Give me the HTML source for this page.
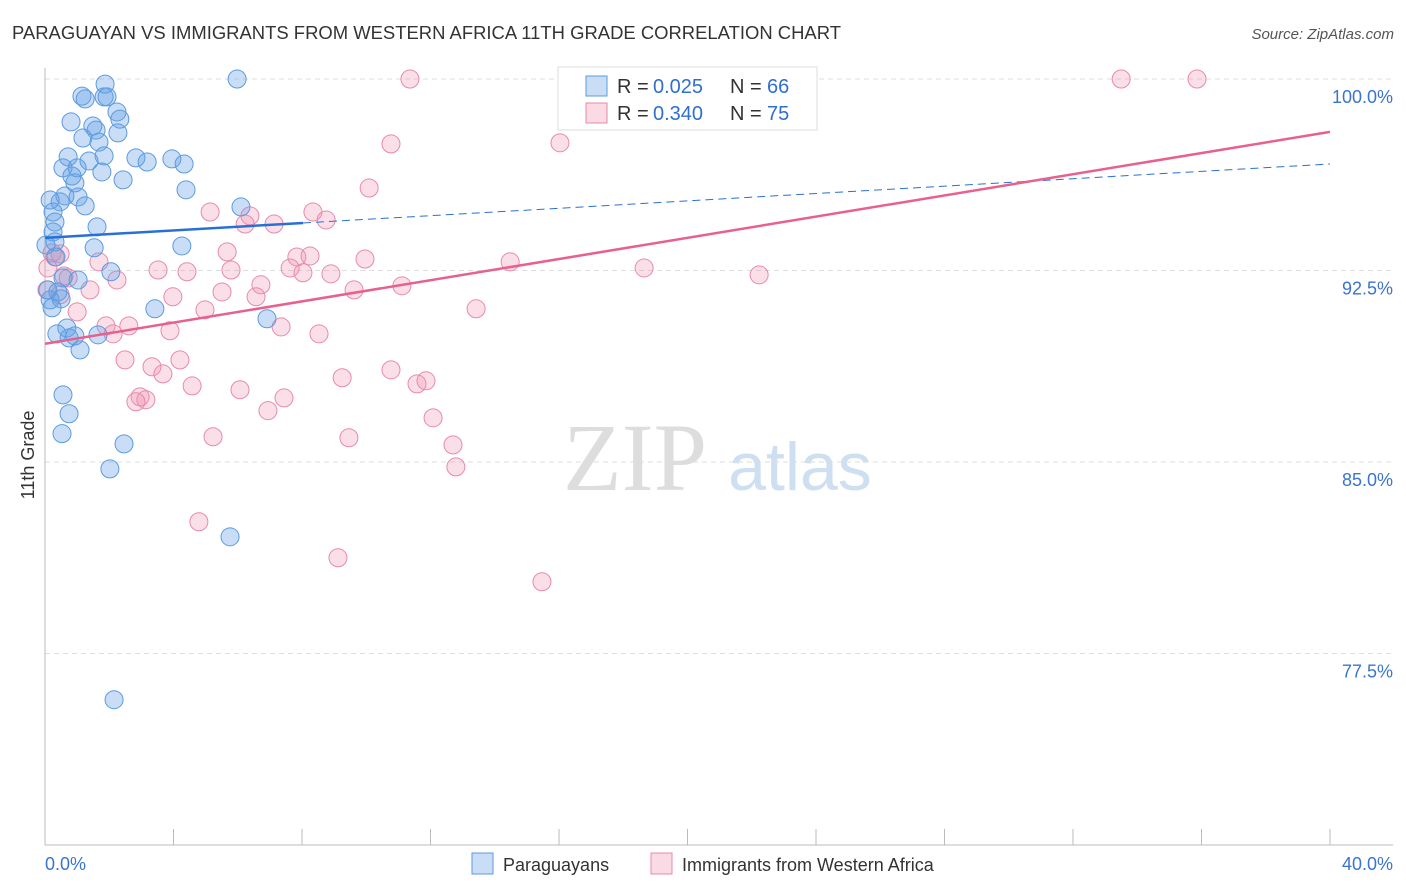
<!DOCTYPE html>
<html><head><meta charset="utf-8"><style>
body{margin:0;background:#fff;font-family:"Liberation Sans",sans-serif}
svg{display:block}
</style></head><body>
<svg id="chart" width="1406" height="892" xmlns="http://www.w3.org/2000/svg">
<text x="12" y="39" font-size="18" fill="#333" textLength="829" lengthAdjust="spacingAndGlyphs">PARAGUAYAN VS IMMIGRANTS FROM WESTERN AFRICA 11TH GRADE CORRELATION CHART</text>
<text x="1394" y="39" font-size="15" fill="#555" font-style="italic" text-anchor="end">Source: ZipAtlas.com</text>
<g>
<text x="635" y="490" font-size="96" font-family="Liberation Serif,serif" fill="#ddd" text-anchor="middle">ZIP</text>
<text x="800" y="490" font-size="68" fill="#cfdff2" text-anchor="middle">atlas</text>
</g>
<g id="grid"></g><g id="axes"></g><g id="pts"></g><g id="lines"></g>
<text transform="translate(34,455) rotate(-90)" font-size="18" fill="#333" text-anchor="middle">11th Grade</text>
<g>
<rect x="558" y="67" width="259" height="63" fill="#fff" stroke="#ddd"/>
<rect x="586" y="76" width="21" height="20" fill="rgba(100,160,230,0.35)" stroke="#5b9be0"/>
<text y="93" font-size="20" fill="#333"><tspan x="617">R =</tspan><tspan x="653" fill="#2f6fd0">0.025</tspan><tspan x="730">N =</tspan><tspan x="767" fill="#2f6fd0">66</tspan></text>
<rect x="586" y="103" width="21" height="20" fill="rgba(240,150,180,0.35)" stroke="#e88aaa"/>
<text y="120" font-size="20" fill="#333"><tspan x="617">R =</tspan><tspan x="653" fill="#2f6fd0">0.340</tspan><tspan x="730">N =</tspan><tspan x="767" fill="#2f6fd0">75</tspan></text>
</g>
<g>
<rect x="472" y="853" width="21" height="21" fill="rgba(100,160,230,0.35)" stroke="#5b9be0"/>
<text x="503" y="871" font-size="18" fill="#333">Paraguayans</text>
<rect x="651" y="853" width="21" height="21" fill="rgba(240,150,180,0.35)" stroke="#e88aaa"/>
<text x="682" y="871" font-size="18" fill="#333">Immigrants from Western Africa</text>
</g>
</svg>
<script>
const yTicks=[100,92.5,85,77.5];
const yTickLabels=["100.0%","92.5%","85.0%","77.5%"];
const xTickLabels=["0.0%","40.0%"];
const blueTrend=[93.78,0.0723];
const blueTrendEnd=[8.03];
const pinkTrend=[89.63,0.2075];
const blueX=[1.87,5.98,1.15,1.25,1.84,1.93,2.24,2.33,0.81,1.49,1.59,2.27,1.18,1.68,0.72,1.84,2.83,3.18,3.95,4.33,0.56,1.00,1.37,1.77,0.84,0.93,2.43,4.39,0.62,1.03,0.47,0.16,1.25,6.10,0.25,0.31,1.62,0.25,0.31,1.53,4.26,0.34,2.05,0.56,1.03,0.40,0.16,0.50,0.22,3.42,6.91,0.68,0.37,1.65,0.75,0.93,1.09,0.56,0.75,0.53,2.46,2.02,5.76,2.15,0.09,0.03];
const blueY=[99.80,100.0,99.33,99.22,99.30,99.30,98.71,98.43,98.32,98.16,98.00,97.89,97.69,97.53,96.95,96.99,96.91,96.75,96.87,96.67,96.52,96.52,96.79,96.36,96.20,95.93,96.05,95.66,95.42,95.38,95.19,95.26,95.03,94.99,94.79,94.40,94.21,94.01,93.62,93.39,93.46,93.03,92.45,92.21,92.13,91.66,91.35,91.39,91.04,91.00,90.61,90.25,90.02,89.98,89.86,89.94,89.39,87.63,86.89,86.11,85.71,84.73,82.07,75.69,91.74,93.50];
const pinkX=[11.36,16.65,33.50,35.86,10.77,16.03,10.09,5.14,8.34,6.38,8.75,6.23,7.13,5.67,7.84,8.25,9.96,14.48,7.63,8.03,8.90,3.52,4.42,5.79,18.65,22.23,0.31,0.47,0.59,0.72,1.68,1.40,2.24,6.72,11.11,5.51,6.57,9.62,3.98,4.98,13.42,1.00,1.90,2.61,2.12,7.35,8.53,3.89,2.49,4.20,3.33,3.67,9.25,10.77,11.58,11.86,4.58,6.07,7.44,2.96,3.14,2.83,6.94,12.08,5.23,9.46,12.70,12.79,4.79,9.12,15.47,0.09,0.22,0.06,0.47];
const pinkY=[100,100,100,100,97.46,97.50,95.73,94.79,94.79,94.64,94.48,94.32,94.32,93.23,93.03,93.07,92.95,92.84,92.60,92.41,92.37,92.52,92.45,92.52,92.60,92.33,93.03,93.15,92.29,92.21,92.84,91.74,92.13,91.94,91.90,91.66,91.47,91.74,91.47,90.96,91.00,90.88,90.33,90.33,90.02,90.29,90.02,90.14,89.00,89.00,88.73,88.45,88.30,88.61,88.06,88.18,87.98,87.83,87.51,87.55,87.44,87.36,87.01,86.73,85.99,85.95,85.67,84.81,82.66,81.25,80.31,92.60,93.19,91.74,91.55];
const NS="http://www.w3.org/2000/svg";
const X0=45,X1=1330,Y0=845,Y1=79;
const sx=v=>X0+(v/40)*(X1-X0);
const sy=v=>Y0-(v-70)/30*(Y0-Y1);
function mk(t,a,p){const e=document.createElementNS(NS,t);for(const k in a)e.setAttribute(k,a[k]);p.appendChild(e);return e;}
const grid=document.getElementById('grid'),axes=document.getElementById('axes');
yTicks.forEach((v,i)=>{
 const l=mk('line',{x1:X0,x2:1393,y1:sy(v),y2:sy(v),stroke:'#ddd','stroke-dasharray':'5,4'},grid);
 
 
 const t=mk('text',{x:1393,y:sy(v)+24,'font-size':18,fill:'#3a74d0','text-anchor':'end'},grid);
 t.textContent=yTickLabels[i];
 
 
});
let a=mk('line',{x1:X0,x2:X0,y1:68,y2:Y0,stroke:'#bbb'},axes);


a=mk('line',{x1:X0,x2:1393,y1:Y0,y2:Y0,stroke:'#bbb'},axes);


for(let i=0;i<=10;i++){
 const tk=mk('line',{x1:sx(i*4),x2:sx(i*4),y1:829,y2:Y0,stroke:'#bbb'},axes);
 
 
}
[[0,'start',45],[1,'end',1393]].forEach(([i,anc,x])=>{
 const t=mk('text',{x:x,y:870,'font-size':18,fill:'#3a74d0','text-anchor':anc},axes);
 t.textContent=xTickLabels[i];
 
 
});
const pts=document.getElementById('pts');
function draw(xs,ys,fill,stroke,name){
 xs.forEach((x,i)=>{
  const c=mk('circle',{cx:sx(x),cy:sy(ys[i]),r:9,fill:fill,stroke:stroke,'stroke-width':1},pts);
  
  
 });
}
draw(pinkX,pinkY,'rgba(240,150,180,0.3)','#e88aaa','immigrant-point');
draw(blueX,blueY,'rgba(100,160,230,0.35)','#5b9be0','paraguayan-point');
const fb=x=>blueTrend[0]+blueTrend[1]*x, fp=x=>pinkTrend[0]+pinkTrend[1]*x;
const lines=document.getElementById('lines');
const bmax=blueTrendEnd[0];
let l=mk('line',{x1:sx(0),y1:sy(fb(0)),x2:sx(bmax),y2:sy(fb(bmax)),stroke:'#2a6fd6','stroke-width':2.5},lines);


l=mk('line',{x1:sx(bmax),y1:sy(fb(bmax)),x2:sx(40),y2:sy(fb(40)),stroke:'#2a6fd6','stroke-width':1,'stroke-dasharray':'8,5'},lines);


l=mk('line',{x1:sx(0),y1:sy(fp(0)),x2:sx(40),y2:sy(fp(40)),stroke:'#e8608c','stroke-width':2.5},lines);


</script>
</body></html>
